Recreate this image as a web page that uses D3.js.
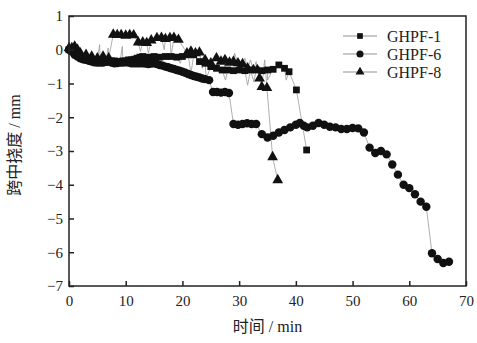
<!DOCTYPE html>
<html>
<head>
<meta charset="utf-8">
<script src="https://cdn.jsdelivr.net/npm/d3@7"></script>
<style>
  body { margin: 0; background: #fff; }
  text { font-family: "Liberation Serif", "Noto Sans CJK SC", serif; fill: #222; }
</style>
</head>
<body>
<div id="chart"></div>
<script>
// data: markers (t in min, deflection in mm)
var seriesNames = ["GHPF-1", "GHPF-6", "GHPF-8"];

var t1 = [0, 0.5, 1, 1.5, 2, 2.5, 3, 3.5, 4, 4.5, 5, 5.5, 6, 6.5, 7, 7.5, 8, 8.5, 9, 9.5, 10, 10.5, 11, 11.5, 12, 12.5, 13, 14, 15, 16, 17, 18, 19, 20, 21, 22, 23, 24, 25, 26, 27, 28, 29, 30, 31, 32, 33, 34, 35, 36, 37, 38, 38.8, 40.1, 41.9];
var v1 = [0, -0.05, -0.1, -0.15, -0.2, -0.25, -0.3, -0.3, -0.32, -0.3, -0.33, -0.35, -0.35, -0.35, -0.35, -0.33, -0.33, -0.35, -0.35, -0.33, -0.33, -0.3, -0.3, -0.28, -0.25, -0.22, -0.2, -0.22, -0.2, -0.22, -0.2, -0.2, -0.22, -0.2, -0.15, -0.15, -0.35, -0.4, -0.5, -0.55, -0.6, -0.6, -0.62, -0.6, -0.62, -0.6, -0.6, -0.62, -0.6, -0.58, -0.45, -0.55, -0.65, -1.19, -2.97];

var t6 = [0, 0.5, 1, 1.5, 2, 2.5, 3, 3.5, 4, 4.5, 5, 5.5, 6, 6.5, 7, 7.5, 8, 8.5, 9, 9.5, 10, 10.5, 11, 11.5, 12, 12.5, 13, 13.5, 14, 14.5, 15, 15.5, 16, 16.5, 17, 17.5, 18, 18.5, 19, 19.5, 20, 20.5, 21, 21.5, 22, 22.5, 23, 23.5, 24, 24.7, 25.4, 26.1, 26.8, 27.5, 28.2, 29, 29.8, 30.6, 31.4, 32.2, 33, 34, 35, 36, 37, 38, 39, 40, 40.7, 41.4, 42, 43, 44, 45, 46, 47, 48, 49, 50, 51, 52, 53, 54, 55, 56, 57, 58, 59, 60, 61, 62, 63, 64, 65, 66, 67];
var v6 = [0, -0.05, -0.15, -0.2, -0.25, -0.28, -0.3, -0.33, -0.35, -0.37, -0.38, -0.38, -0.38, -0.36, -0.35, -0.38, -0.4, -0.39, -0.38, -0.38, -0.37, -0.38, -0.4, -0.4, -0.4, -0.4, -0.4, -0.41, -0.42, -0.41, -0.4, -0.42, -0.45, -0.47, -0.5, -0.52, -0.55, -0.57, -0.6, -0.62, -0.65, -0.68, -0.72, -0.75, -0.78, -0.8, -0.82, -0.85, -0.87, -0.9, -1.25, -1.25, -1.27, -1.25, -1.28, -2.2, -2.22, -2.2, -2.18, -2.2, -2.2, -2.5, -2.6, -2.55, -2.45, -2.38, -2.3, -2.22, -2.17, -2.25, -2.3, -2.25, -2.17, -2.22, -2.28, -2.3, -2.35, -2.35, -2.32, -2.33, -2.45, -2.9, -3.06, -3.0, -3.1, -3.4, -3.7, -4.0, -4.1, -4.28, -4.5, -4.65, -6.03, -6.2, -6.32, -6.28];

var t8 = [0, 0.5, 1, 1.5, 2, 3, 4, 5, 6, 7, 7.8, 8.5, 9.2, 10, 10.7, 11.4, 12.2, 13, 13.7, 14.5, 15.5, 16.3, 17, 17.8, 18.5, 19.3, 20.8, 21.5, 22.3, 23, 24, 25, 26, 26.8, 27.5, 28.3, 29, 29.8, 30.6, 31.5, 32.5, 33.2, 33.6, 34, 34.9, 35.9, 36.8];
var v8 = [0.05, 0.05, 0.1, 0, -0.1, -0.15, -0.2, -0.25, -0.2, -0.25, 0.45, 0.44, 0.44, 0.42, 0.44, 0.43, 0.22, 0.22, 0.2, 0.28, 0.35, 0.36, 0.32, 0.35, 0.36, 0.3, -0.1, -0.05, -0.1, -0.08, -0.3, -0.4, -0.25, -0.35, -0.3, -0.38, -0.35, -0.4, -0.42, -0.55, -0.6, -0.6, -0.85, -1.1, -1.13, -3.18, -3.86];

// extra readings on the thin raw lines (spikes between markers)
var spikeT1 = [5.4, 6.9, 9.4, 19.6, 21.5, 24.2, 27.6, 31.5, 32.6, 35.0, 38.3];
var spikeV1 = [0.15, 0.05, 0.1, -0.4, -0.7, -0.85, -0.9, -1.05, -0.95, -0.9, -0.9];
var spikeT8 = [12.6, 14.0, 16.8, 18.0, 23.5, 29.2, 31.0, 32.0, 33.0, 34.5];
var spikeV8 = [-0.05, -0.1, 0.0, -0.2, -0.55, -0.1, -0.25, -0.3, -0.35, -0.3];
var spikeT6 = [];
var spikeV6 = [];

var xTicks = [0, 10, 20, 30, 40, 50, 60, 70];
var yTicks = [1, 0, -1, -2, -3, -4, -5, -6, -7];

var W = 477, H = 343;
var margin = {top: 16, right: 11, bottom: 57, left: 69};
var width = W - margin.left - margin.right,
    height = H - margin.top - margin.bottom;

var svg = d3.select("#chart").append("svg")
  .attr("width", W).attr("height", H);

var g = svg.append("g")
  .attr("transform", `translate(${margin.left},${margin.top})`);

var x = d3.scaleLinear().domain([0, 70]).range([0, width]);
var y = d3.scaleLinear().domain([-7, 1]).range([height, 0]);

function pts(ts, vs) { return ts.map((t, i) => ({t: t, v: vs[i]})); }
function raw(ts, vs, sts, svs) {
  return pts(ts, vs).concat(pts(sts, svs)).sort((a, b) => a.t - b.t);
}

var series = [
  {name: seriesNames[0], sym: d3.symbolSquare, size: 46, marks: pts(t1, v1), line: raw(t1, v1, spikeT1, spikeV1)},
  {name: seriesNames[1], sym: d3.symbolCircle, size: 56, marks: pts(t6, v6), line: raw(t6, v6, spikeT6, spikeV6)},
  {name: seriesNames[2], sym: d3.symbolTriangle, size: 50, marks: pts(t8, v8), line: raw(t8, v8, spikeT8, spikeV8)}
];

var line = d3.line().x(d => x(d.t)).y(d => y(d.v));

// thin raw lines
g.selectAll("path.raw")
  .data(series)
  .join("path")
  .attr("class", "raw")
  .attr("d", d => line(d.line))
  .attr("fill", "none")
  .attr("stroke", "#9a9a9a")
  .attr("stroke-width", 0.8);

// markers
series.forEach(function(s) {
  g.selectAll(null)
    .data(s.marks)
    .join("path")
    .attr("transform", d => `translate(${x(d.t)},${y(d.v)})`)
    .attr("d", d3.symbol().type(s.sym).size(s.size))
    .attr("fill", "#111");
});

// axes, ticks inside
var xAxis = g.append("g")
  .attr("transform", `translate(0,${height})`)
  .call(d3.axisBottom(x).tickValues(xTicks).tickSize(-5).tickPadding(9).tickFormat(d3.format("d")));
var yAxis = g.append("g")
  .call(d3.axisLeft(y).tickValues(yTicks).tickSize(-5).tickPadding(6)
    .tickFormat(d => d < 0 ? "\u2212" + Math.abs(d) : d));

[xAxis, yAxis].forEach(function(a) {
  a.select(".domain").remove();
  a.selectAll("line").attr("stroke", "#222").attr("stroke-width", 1.5);
  a.selectAll("text").style("font-size", "15px").attr("fill", "#222")
    .style("font-family", "'Liberation Serif', serif");
});

// frame
g.append("rect")
  .attr("width", width).attr("height", height)
  .attr("fill", "none").attr("stroke", "#222").attr("stroke-width", 1.5);

// axis titles
svg.append("text")
  .attr("x", margin.left + width / 2).attr("y", 332)
  .attr("text-anchor", "middle")
  .style("font-size", "16px")
  .text("时间 / min");

svg.append("text")
  .attr("transform", `translate(20,${margin.top + height / 2 - 6}) rotate(-90)`)
  .attr("text-anchor", "middle")
  .style("font-size", "16px")
  .text("跨中挠度 / mm");

// legend
var legend = svg.append("g").attr("transform", "translate(343,36)");
series.forEach(function(s, i) {
  var row = legend.append("g").attr("transform", `translate(0,${i * 18})`);
  row.append("line").attr("x1", 0).attr("x2", 34)
    .attr("stroke", "#777").attr("stroke-width", 0.8);
  row.append("path").attr("transform", "translate(17,0)")
    .attr("d", d3.symbol().type(s.sym).size(s.size * 0.7))
    .attr("fill", "#111");
  row.append("text").attr("x", 44).attr("y", 5.5)
    .style("font-size", "16px")
    .text(s.name);
});
</script>
</body>
</html>
